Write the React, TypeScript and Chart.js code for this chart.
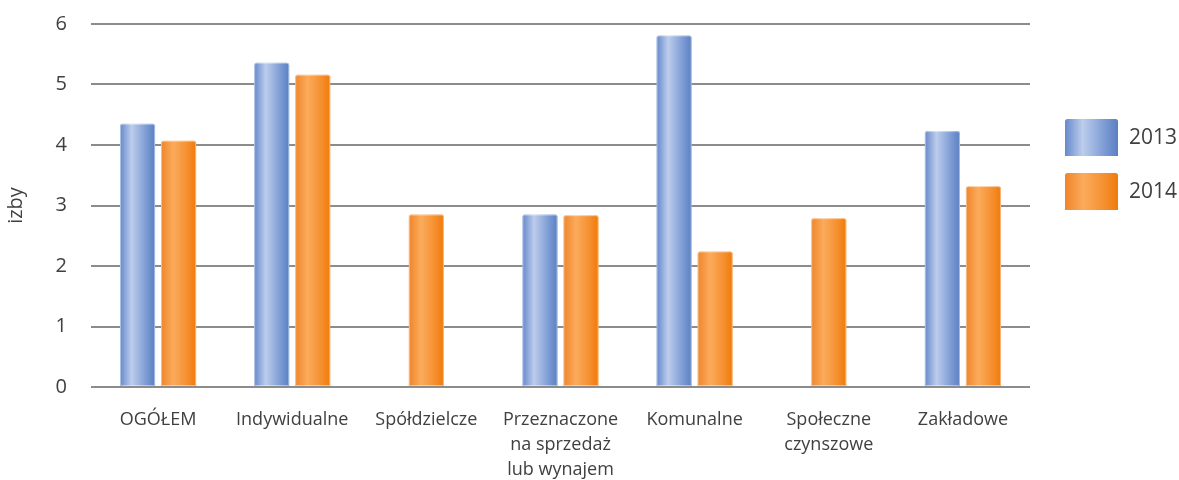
import React, { useEffect, useRef } from "react";
import { Chart, registerables } from "chart.js";

Chart.register(...registerables);

const categories: (string | string[])[] = [
  "OGÓŁEM",
  "Indywidualne",
  "Spółdzielcze",
  ["Przeznaczone", "na sprzedaż", "lub wynajem"],
  "Komunalne",
  ["Społeczne", "czynszowe"],
  "Zakładowe",
];
const seriesNames = ["2013", "2014"];
const values2013: (number | null)[] = [4.35, 5.36, null, 2.85, 5.81, null, 4.23];
const values2014: (number | null)[] = [4.07, 5.16, 2.85, 2.84, 2.24, 2.79, 3.32];
const yTicks = [0, 1, 2, 3, 4, 5, 6];
const axisTitle = "izby";

const FONT = "'Open Sans', sans-serif";
const TEXT = "#404040";

const gradStops = [
  [
    [0, "#6589cb"],
    [0.33, "#bccdec"],
    [0.75, "#7c9bd4"],
    [1, "#5a7fc2"],
  ],
  [
    [0, "#f0852a"],
    [0.35, "#fbab5c"],
    [0.75, "#f58f2e"],
    [1, "#f07a0a"],
  ],
];

function makeGrad(ctx: CanvasRenderingContext2D, x0: number, x1: number, idx: number) {
  const g = ctx.createLinearGradient(x0, 0, x1, 0);
  for (const [o, c] of gradStops[idx]) g.addColorStop(o as number, c as string);
  return g;
}

function roundTopRect(ctx: CanvasRenderingContext2D, x: number, y: number, w: number, h: number, r: number) {
  ctx.beginPath();
  ctx.moveTo(x, y + h);
  ctx.lineTo(x, y + r);
  ctx.quadraticCurveTo(x, y, x + r, y);
  ctx.lineTo(x + w - r, y);
  ctx.quadraticCurveTo(x + w, y, x + w, y + r);
  ctx.lineTo(x + w, y + h);
  ctx.closePath();
}

const gradientBars = {
  id: "gradientBars",
  afterDatasetsDraw(chart: any) {
    const ctx: CanvasRenderingContext2D = chart.ctx;
    const ds = chart.data.datasets;
    ctx.save();
    ds.forEach((_: any, di: number) => {
      const meta = chart.getDatasetMeta(di);
      meta.data.forEach((el: any, i: number) => {
        const v = ds[di].data[i];
        if (v === null || v === undefined) return;
        let { x, y, base, width } = el.getProps(["x", "y", "base", "width"], true);
        const others = ds.filter((_d: any, k: number) => k !== di && _d.data[i] !== null && _d.data[i] !== undefined);
        if (others.length === 0) x = chart.scales.x.getPixelForValue(i);
        const x0 = x - width / 2;
        const h = base - y;
        ctx.fillStyle = makeGrad(ctx, x0, x0 + width, di);
        roundTopRect(ctx, x0, y, width, h, 2.5);
        ctx.fill();
        ctx.strokeStyle = "rgba(255,255,255,0.45)";
        ctx.lineWidth = 1;
        roundTopRect(ctx, x0 + 0.5, y + 0.5, width - 1, h - 1, 2);
        ctx.stroke();
      });
    });
    ctx.restore();
  },
};

const customLegend = {
  id: "customLegend",
  afterDraw(chart: any) {
    const ctx: CanvasRenderingContext2D = chart.ctx;
    ctx.save();
    const bx = 1065;
    const bw = 53;
    const bh = 37;
    const tops = [119, 173];
    seriesNames.forEach((name, i) => {
      const y = tops[i];
      ctx.fillStyle = makeGrad(ctx, bx, bx + bw, i);
      roundTopRect(ctx, bx, y, bw, bh, 2.5);
      ctx.fill();
      ctx.font = `21px ${FONT}`;
      ctx.fillStyle = TEXT;
      ctx.textBaseline = "middle";
      ctx.textAlign = "left";
      ctx.fillText(name, 1129, y + bh / 2 + 1);
    });
    ctx.restore();
  },
};

export default function App() {
  const ref = useRef<HTMLCanvasElement | null>(null);
  useEffect(() => {
    document.body.style.margin = "0";
    if (!ref.current) return;
    const chart = new Chart(ref.current, {
      type: "bar",
      data: {
        labels: categories,
        datasets: [
          { label: seriesNames[0], data: values2013, backgroundColor: "rgba(0,0,0,0)", borderWidth: 0 },
          { label: seriesNames[1], data: values2014, backgroundColor: "rgba(0,0,0,0)", borderWidth: 0 },
        ],
      },
      plugins: [gradientBars, customLegend],
      options: {
        responsive: false,
        animation: false,
        datasets: { bar: { barPercentage: 0.854, categoryPercentage: 0.612 } },
        layout: { padding: { top: 24, right: 149, left: 0, bottom: 0 } },
        plugins: { legend: { display: false }, tooltip: { enabled: false } },
        scales: {
          x: {
            grid: { display: false, drawTicks: false },
            border: { display: false },
            ticks: {
              autoSkip: false,
              maxRotation: 0,
              minRotation: 0,
              padding: 20,
              color: TEXT,
              font: { family: FONT, size: 18, lineHeight: 1.39 },
            },
            afterFit: (s: any) => {
              s.height = 93;
              s.paddingTop = 0;
            },
          },
          y: {
            min: 0,
            max: 6,
            afterBuildTicks: (s: any) => {
              s.ticks = yTicks.map((v) => ({ value: v }));
            },
            grid: { color: "#8c8c8c", lineWidth: 2, drawTicks: false },
            border: { display: false },
            ticks: {
              padding: 24,
              color: TEXT,
              font: { family: FONT, size: 20 },
            },
            title: {
              display: true,
              text: axisTitle,
              color: TEXT,
              font: { family: FONT, size: 20 },
              padding: { top: 4, bottom: 0 },
            },
            afterFit: (s: any) => {
              s.width = 91;
              s.paddingTop = 0;
            },
          },
        },
      } as any,
    });
    return () => chart.destroy();
  }, []);
  return <canvas ref={ref} width={1179} height={480} style={{ display: "block" }} />;
}
